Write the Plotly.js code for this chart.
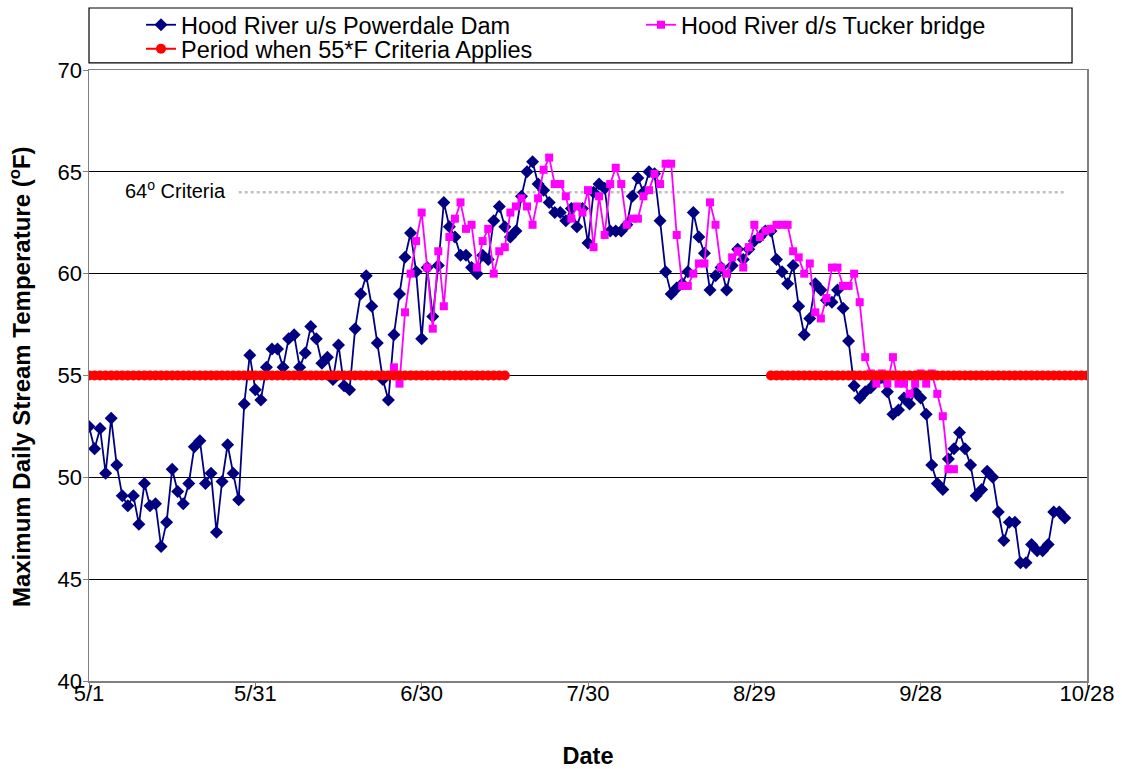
<!DOCTYPE html>
<html>
<head>
<meta charset="utf-8">
<script src="https://cdn.plot.ly/plotly-3.0.1.min.js"></script>
<style>html,body{margin:0;padding:0;background:#fff;}#chart{width:1122px;height:769px;}</style>
</head>
<body>
<div id="chart"></div>
<script>
// Tick labels (every 30 days starting 5/1)
const tickDays = [0, 30, 60, 90, 120, 150, 180];
const tickLabels = ['5/1', '5/31', '6/30', '7/30', '8/29', '9/28', '10/28'];

// Hood River u/s Powerdale Dam: daily maxima starting 5/1 (day 0)
const upstreamStartDay = 0;
const upstreamTemps = [
  52.5, 51.4, 52.4, 50.2, 52.9, 50.6, 49.1, 48.6, 49.1, 47.7,
  49.7, 48.6, 48.7, 46.6, 47.8, 50.4, 49.3, 48.7, 49.7, 51.5,
  51.8, 49.7, 50.2, 47.3, 49.8, 51.6, 50.2, 48.9, 53.6, 56.0,
  54.3, 53.8, 55.4, 56.3, 56.3, 55.4, 56.8, 57.0, 55.4, 56.1,
  57.4, 56.8, 55.6, 55.9, 54.8, 56.5, 54.5, 54.3, 57.3, 59.0,
  59.9, 58.4, 56.6, 54.8, 53.8, 57.0, 59.0, 60.8, 62.0, 60.1,
  56.8, 60.3, 57.9, 60.4, 63.5, 62.3, 61.8, 60.9, 60.9, 60.3,
  60.0, 60.9, 60.7, 62.6, 63.3, 62.3, 61.8, 62.1, 63.8, 65.0,
  65.5, 64.4, 64.1, 63.5, 63.0, 63.0, 62.6, 63.2, 62.3, 63.2,
  61.5, 64.0, 64.4, 64.2, 62.1, 62.1, 62.1, 62.4, 63.8, 64.7,
  64.0, 65.0, 64.9, 62.6, 60.1, 59.0, 59.3, 59.5, 60.1, 63.0,
  61.8, 61.0, 59.2, 59.9, 60.3, 59.2, 60.4, 61.2, 60.7, 61.2,
  61.6, 61.8, 62.1, 62.1, 60.7, 60.1, 59.5, 60.4, 58.4, 57.0,
  57.8, 59.5, 59.2, 58.7, 58.6, 59.2, 58.3, 56.7, 54.5, 53.9,
  54.2, 54.4, 54.7, 54.9, 54.2, 53.1, 53.3, 53.9, 53.6, 54.2,
  53.9, 53.1, 50.6, 49.7, 49.4, 50.9, 51.4, 52.2, 51.4, 50.6,
  49.1, 49.4, 50.3, 50.0, 48.3, 46.9, 47.8, 47.8, 45.8, 45.8,
  46.7, 46.4, 46.4, 46.7, 48.3, 48.3, 48.0
];

// Hood River d/s Tucker bridge: daily maxima starting 6/25 (day 55)
const downstreamStartDay = 55;
const downstreamTemps = [
  55.4, 54.6, 58.1, 60.0, 61.6, 63.0, 60.3, 57.3, 61.1, 58.4,
  61.8, 62.7, 63.5, 62.2, 62.4, 60.3, 61.6, 62.2, 60.0, 61.1,
  61.3, 63.0, 63.3, 63.7, 63.3, 62.4, 63.7, 65.1, 65.7, 64.4,
  64.4, 63.8, 62.7, 63.3, 63.0, 64.1, 61.3, 63.8, 61.9, 64.4,
  65.2, 64.4, 62.4, 62.7, 62.7, 63.8, 64.1, 64.9, 64.4, 65.4,
  65.4, 61.9, 59.4, 59.4, 60.0, 60.5, 60.5, 63.5, 62.4, 60.3,
  60.0, 60.8, 61.1, 60.3, 61.3, 62.4, 61.8, 62.1, 62.2, 62.4,
  62.4, 62.4, 61.1, 60.8, 60.0, 60.5, 58.1, 57.8, 58.8, 60.3,
  60.3, 59.4, 59.4, 60.0, 58.6, 55.9, 55.1, 54.6, 55.1, 54.6,
  55.9, 54.6, 54.6, 54.1, 54.6, 55.1, 54.6, 55.1, 54.1, 53.0,
  50.4, 50.4
];

// Periods when the 55*F criterion applies (first and last day of each)
const criteria55Value = 55;
const criteria55Periods = [[0, 75], [123, 180]];

// 64 degree criterion line
const criteria64Value = 64;
const criteria64Span = [27, 176];

function daysFrom(start, n) { const a = []; for (let i = 0; i < n; i++) a.push(start + i); return a; }

const redX = [], redY = [];
criteria55Periods.forEach((p, k) => {
  if (k > 0) { redX.push(null); redY.push(null); }
  for (let d = p[0]; d <= p[1]; d++) { redX.push(d); redY.push(criteria55Value); }
});

const font = 'Liberation Sans, Arial, sans-serif';
const legFont = {family: font, size: 23.5, color: '#000'};

const traces = [
  {
    x: criteria64Span, y: criteria64Span.map(() => criteria64Value),
    mode: 'lines', line: {color: '#c0c0c0', width: 2.5, dash: 'dot'},
    showlegend: false, hoverinfo: 'skip'
  },
  {
    name: 'Hood River u/s Powerdale Dam', legend: 'legend',
    x: daysFrom(upstreamStartDay, upstreamTemps.length), y: upstreamTemps,
    mode: 'lines+markers',
    line: {color: '#000080', width: 1.8},
    marker: {symbol: 'diamond', size: 10, color: '#000080'}
  },
  {
    name: 'Hood River d/s Tucker bridge', legend: 'legend2',
    x: daysFrom(downstreamStartDay, downstreamTemps.length), y: downstreamTemps,
    mode: 'lines+markers',
    line: {color: '#ff00ff', width: 1.8},
    marker: {symbol: 'square', size: 8, color: '#ff00ff'}
  },
  {
    name: 'Period when 55*F Criteria Applies', legend: 'legend3',
    x: redX, y: redY,
    mode: 'lines+markers', connectgaps: false,
    line: {color: '#ff0000', width: 2},
    marker: {symbol: 'circle', size: 10, color: '#ff0000'}
  }
];

const legBase = {bgcolor: 'rgba(0,0,0,0)', borderwidth: 0, font: legFont, xanchor: 'left', yanchor: 'top'};

const layout = {
  width: 1122, height: 769,
  margin: {l: 89, r: 35, t: 70, b: 88, autoexpand: false},
  paper_bgcolor: '#ffffff', plot_bgcolor: '#ffffff',
  font: {family: font, size: 22, color: '#000'},
  showlegend: true,
  legend: Object.assign({x: 0.0521, y: 1.1097}, legBase),
  legend2: Object.assign({x: 0.5531, y: 1.1097}, legBase),
  legend3: Object.assign({x: 0.0521, y: 1.0704}, legBase),
  xaxis: {
    range: [0, 180], tickvals: tickDays, ticktext: tickLabels,
    showgrid: false, zeroline: false,
    showline: true, linecolor: '#808080', linewidth: 1.5, mirror: true,
    ticks: 'outside', ticklen: 5, tickcolor: '#808080',
    ticklabelstandoff: -13,
    tickfont: {family: font, size: 22},
    title: {text: '<b>Date</b>', font: {family: font, size: 23.5}, standoff: 42}
  },
  yaxis: {
    range: [40, 70], dtick: 5, tick0: 40,
    showgrid: true, gridcolor: '#000000', gridwidth: 1, zeroline: false,
    showline: true, linecolor: '#808080', linewidth: 1.5, mirror: true,
    ticks: 'outside', ticklen: 5, tickcolor: '#808080',
    ticklabelstandoff: -4,
    tickfont: {family: font, size: 22}
  },
  shapes: [
    {type: 'rect', xref: 'paper', yref: 'paper', x0: 0, x1: 0.985, y0: 1.0115, y1: 1.1015,
     line: {color: '#000', width: 1.2}, fillcolor: 'rgba(0,0,0,0)', layer: 'above'}
  ],
  annotations: [
    {xref: 'paper', yref: 'y', x: 0.034, y: criteria64Value, xanchor: 'left', yanchor: 'middle',
     yshift: 3, text: '64<sup>o</sup> Criteria', showarrow: false, font: {family: font, size: 20, color: '#000'}},
    {xref: 'paper', yref: 'paper', x: -0.0691, y: 0.4975, xanchor: 'center', yanchor: 'middle',
     textangle: -90, showarrow: false,
     text: '<b>Maximum Daily Stream Temperature (<sup>o</sup>F)</b>', font: {family: font, size: 24, color: '#000'}}
  ]
};

Plotly.newPlot('chart', traces, layout, {displayModeBar: false, staticPlot: true});
</script>
</body>
</html>
